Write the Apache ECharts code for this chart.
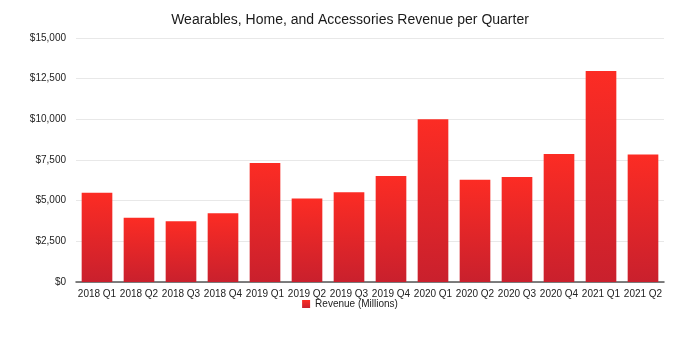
<!DOCTYPE html>
<html>
<head>
<meta charset="utf-8">
<script src="https://cdn.jsdelivr.net/npm/echarts@6/dist/echarts.min.js"></script>
<style>
html,body{margin:0;padding:0;background:#fff;}
#chart{width:700px;height:346px;}
</style>
</head>
<body>
<div id="chart"></div>
<script>
const titleText = 'Wearables, Home, and Accessories Revenue per Quarter';
const categories = ['2018 Q1','2018 Q2','2018 Q3','2018 Q4','2019 Q1','2019 Q2','2019 Q3','2019 Q4','2020 Q1','2020 Q2','2020 Q3','2020 Q4','2021 Q1','2021 Q2'];
const revenue = [5489, 3954, 3740, 4234, 7308, 5129, 5525, 6520, 10010, 6284, 6450, 7876, 12971, 7836];
const seriesName = 'Revenue (Millions)';
const yMin = 0, yMax = 15000, yInterval = 2500;

const chart = echarts.init(document.getElementById('chart'), null, {renderer:'canvas'});
const font = 'Liberation Sans, Arial, Helvetica, sans-serif';
chart.setOption({
  animation: false,
  backgroundColor: '#fff',
  title: {
    text: titleText,
    left: 'center',
    top: 8,
    textStyle: {fontFamily: font, fontSize: 14, fontWeight: 'normal', color: '#1a1a1a'}
  },
  legend: {
    data: [seriesName],
    bottom: 32,
    left: 'center',
    itemWidth: 8,
    itemHeight: 8,
    itemGap: 6,
    icon: 'rect',
    textStyle: {fontFamily: font, fontSize: 10, color: '#222'}
  },
  grid: {left: 76, right: 36, top: 38, bottom: 64, containLabel: false},
  xAxis: {
    type: 'category',
    data: categories,
    axisLine: {lineStyle: {color: '#555', width: 1.5}},
    axisTick: {show: false},
    axisLabel: {fontFamily: font, fontSize: 10, color: '#222', margin: 7, interval: 0}
  },
  yAxis: {
    type: 'value',
    min: yMin, max: yMax, interval: yInterval,
    axisLine: {show: false},
    axisTick: {show: false},
    splitLine: {lineStyle: {color: '#e8e8e8', width: 1}},
    axisLabel: {
      fontFamily: font, fontSize: 10, color: '#222', margin: 10,
      formatter: v => '$' + v.toLocaleString('en-US')
    }
  },
  series: [{
    name: seriesName,
    type: 'bar',
    data: revenue,
    barWidth: '73%',
    itemStyle: {
      color: new echarts.graphic.LinearGradient(0, 0, 0, 1, [
        {offset: 0, color: '#fc2c24'},
        {offset: 1, color: '#c9202d'}
      ])
    }
  }]
});
</script>
</body>
</html>
